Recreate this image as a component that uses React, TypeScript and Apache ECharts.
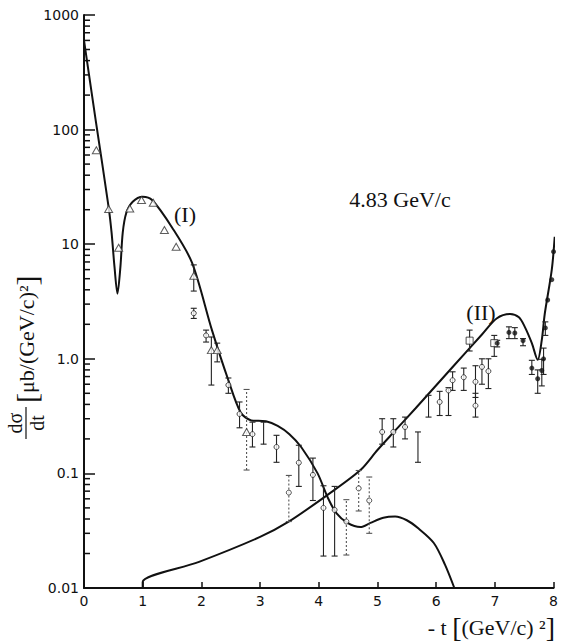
import React, { useEffect, useRef } from 'react';
import * as echarts from 'echarts';

// ---- tick labels ----
const xTickLabels = ['0', '1', '2', '3', '4', '5', '6', '7', '8'];
const yTickLabels = ['0.01', '0.1', '1.0', '10', '100', '1000'];
const yMinorTicks = [
  0.02, 0.03, 0.04, 0.05, 0.06, 0.07, 0.08, 0.09,
  0.2, 0.3, 0.4, 0.5, 0.6, 0.7, 0.8, 0.9,
  2, 3, 4, 5, 6, 7, 8, 9,
  20, 30, 40, 50, 60, 70, 80, 90,
  200, 300, 400, 500, 600, 700, 800, 900,
];

// ---- model curves ----
const curveI: [number, number][] = [
  [0, 600], [0.2, 120], [0.42, 21], [0.47, 12.6], [0.52, 6.3], [0.57, 3.7],
  [0.62, 6.3], [0.66, 12.6], [0.72, 18.7], [0.83, 23.5], [1.0, 26], [1.16, 24.3],
  [1.5, 14], [1.84, 6.9], [2.18, 1.78], [2.46, 0.65], [2.67, 0.34], [2.85, 0.29],
  [3.1, 0.285], [3.3, 0.26], [3.5, 0.22], [3.7, 0.17], [3.98, 0.1], [4.15, 0.062],
  [4.3, 0.045], [4.49, 0.037], [4.71, 0.034], [4.88, 0.037], [5.1, 0.041],
  [5.3, 0.042], [5.5, 0.039], [5.7, 0.033], [5.96, 0.0247], [6.15, 0.016], [6.31, 0.01],
];
const curveII: [number, number][] = [
  [1.0, 0.01], [1.0, 0.0113], [1.96, 0.0169], [3.0, 0.0279], [3.48, 0.0377],
  [4.15, 0.065], [4.71, 0.107], [5.0, 0.16], [5.28, 0.23], [5.65, 0.37], [6.3, 0.87],
  [6.78, 1.63], [7.03, 2.25], [7.26, 2.46], [7.41, 2.3], [7.51, 1.9],
  [7.63, 1.37], [7.73, 0.98], [7.8, 1.46], [7.85, 2.46], [7.97, 6], [8.02, 11.6],
];

// ---- data points ----
const triangles: [number, number][] = [
  [0.21, 66], [0.42, 20.3], [0.59, 9.3], [0.78, 20.5], [0.98, 24.3], [1.18, 23],
  [1.37, 13.3], [1.57, 9.5], [1.87, 5.3], [2.17, 1.19], [2.27, 1.19], [2.77, 0.23],
];
const openCircles: [number, number][] = [
  [1.87, 2.5], [2.08, 1.6], [2.46, 0.59], [2.65, 0.33], [2.87, 0.22], [3.28, 0.17],
  [3.49, 0.068], [3.66, 0.124], [3.9, 0.097], [4.08, 0.05], [4.27, 0.048], [4.47, 0.038],
  [4.68, 0.074], [4.86, 0.058], [5.08, 0.23], [5.27, 0.23], [5.47, 0.254], [6.06, 0.42],
  [6.21, 0.53], [6.28, 0.65], [6.47, 0.69], [6.67, 0.63], [6.67, 0.39], [6.78, 0.85],
  [6.89, 0.78],
];
const openSquares: [number, number][] = [[6.57, 1.44], [6.99, 1.37]];
const filledCircles: [number, number][] = [
  [7.04, 1.37], [7.24, 1.7], [7.34, 1.68], [7.48, 1.44], [7.63, 0.83], [7.73, 0.67],
  [7.8, 0.79], [7.83, 1.0], [7.86, 1.86], [7.9, 3.26], [7.97, 4.9], [8.0, 8.6],
];
// [x, low, high]
const errorBars: [number, number, number][] = [
  [1.87, 3.9, 6.6], [1.87, 2.25, 2.76], [2.08, 1.4, 1.78], [2.17, 0.59, 1.55],
  [2.27, 0.94, 1.37], [2.46, 0.5, 0.68], [2.65, 0.25, 0.42], [2.87, 0.17, 0.28],
  [3.06, 0.18, 0.28], [3.28, 0.125, 0.215], [3.66, 0.077, 0.176], [3.9, 0.058, 0.136],
  [4.08, 0.019, 0.078], [4.27, 0.019, 0.077], [5.08, 0.18, 0.3], [5.27, 0.17, 0.3],
  [5.47, 0.2, 0.31], [5.69, 0.125, 0.23], [5.87, 0.31, 0.48], [6.06, 0.32, 0.52],
  [6.21, 0.32, 0.56], [6.28, 0.53, 0.77], [6.47, 0.53, 0.83], [6.57, 1.17, 1.78],
  [6.67, 0.46, 0.87], [6.67, 0.31, 0.5], [6.78, 0.6, 1.0], [6.89, 0.55, 1.0],
  [6.99, 1.05, 1.6], [7.04, 1.27, 1.45], [7.24, 1.5, 1.9], [7.34, 1.5, 1.87],
  [7.48, 1.3, 1.5], [7.63, 0.73, 0.97], [7.73, 0.5, 0.8], [7.8, 0.58, 0.99],
  [7.83, 0.73, 1.24], [7.86, 1.6, 2.1],
];
const dashedErrorBars: [number, number, number][] = [
  [2.77, 0.107, 0.54], [3.49, 0.038, 0.096], [4.47, 0.0194, 0.059],
  [4.68, 0.047, 0.106], [4.86, 0.03, 0.093],
];

const INK = '#111';
const SERIF = 'Liberation Serif';

function errorBarRenderer(dashed: boolean) {
  return (_params: any, api: any) => {
    const x = api.value(0);
    const lo = api.coord([x, api.value(1)]);
    const hi = api.coord([x, api.value(2)]);
    const w = 3;
    const style = {
      stroke: dashed ? '#555' : '#222',
      lineWidth: 1.1,
      lineDash: dashed ? [2, 2] : null,
    };
    const capStyle = { stroke: dashed ? '#555' : '#222', lineWidth: 1.1 };
    return {
      type: 'group',
      children: [
        { type: 'line', shape: { x1: lo[0], y1: lo[1], x2: hi[0], y2: hi[1] }, style },
        { type: 'line', shape: { x1: lo[0] - w, y1: lo[1], x2: lo[0] + w, y2: lo[1] }, style: capStyle },
        { type: 'line', shape: { x1: hi[0] - w, y1: hi[1], x2: hi[0] + w, y2: hi[1] }, style: capStyle },
      ],
    };
  };
}

export default function App() {
  const ref = useRef<HTMLDivElement>(null);

  useEffect(() => {
    if (!ref.current) return;
    const chart = echarts.init(ref.current, undefined, { renderer: 'svg' });
    const axisLineStyle = { color: INK, width: 2 };
    const option: any = {
      animation: false,
      backgroundColor: '#fff',
      grid: { left: 84, right: 2, top: 15, bottom: 56 },
      xAxis: {
        type: 'value',
        min: 0,
        max: 8,
        interval: 1,
        axisLine: { show: true, onZero: false, lineStyle: axisLineStyle },
        axisTick: { show: true, inside: true, length: 6, lineStyle: { color: INK, width: 1.5 } },
        axisLabel: {
          formatter: (v: number) => xTickLabels[Math.round(v)],
          color: INK,
          fontFamily: 'DejaVu Sans',
          fontSize: 14,
          margin: 6,
        },
        splitLine: { show: false },
      },
      yAxis: {
        type: 'log',
        logBase: 10,
        min: 0.01,
        max: 1000,
        axisLine: { show: true, onZero: false, lineStyle: axisLineStyle },
        axisTick: { show: true, inside: true, length: 11, lineStyle: { color: INK, width: 1.5 } },
        axisLabel: {
          formatter: (v: number) => yTickLabels[Math.round(Math.log10(v)) + 2],
          color: INK,
          fontFamily: 'DejaVu Sans',
          fontSize: 14,
          margin: 5,
        },
        splitLine: { show: false },
      },
      series: [
        {
          type: 'custom',
          data: yMinorTicks.map((v) => [0, v]),
          encode: { x: 0, y: 1 },
          silent: true,
          renderItem: (_p: any, api: any) => {
            const p = api.coord([0, api.value(1)]);
            return {
              type: 'line',
              shape: { x1: p[0], y1: p[1], x2: p[0] + 6, y2: p[1] },
              style: { stroke: INK, lineWidth: 1.5 },
            };
          },
        },
        {
          type: 'line',
          data: curveI,
          smooth: 0.3,
          symbol: 'none',
          lineStyle: { color: INK, width: 2 },
          z: 3,
        },
        {
          type: 'line',
          data: curveII,
          smooth: 0.3,
          symbol: 'none',
          lineStyle: { color: INK, width: 2 },
          z: 3,
        },
        {
          type: 'custom',
          data: errorBars,
          encode: { x: 0, y: [1, 2] },
          renderItem: errorBarRenderer(false),
          z: 4,
        },
        {
          type: 'custom',
          data: dashedErrorBars,
          encode: { x: 0, y: [1, 2] },
          renderItem: errorBarRenderer(true),
          z: 4,
        },
        {
          type: 'scatter',
          data: triangles,
          symbol: 'triangle',
          symbolSize: [8, 7],
          itemStyle: { color: '#fff', borderColor: '#333', borderWidth: 1 },
          z: 5,
        },
        {
          type: 'scatter',
          data: openCircles,
          symbol: 'circle',
          symbolSize: 5,
          itemStyle: { color: '#fff', borderColor: '#222', borderWidth: 1 },
          z: 5,
        },
        {
          type: 'scatter',
          data: openSquares,
          symbol: 'rect',
          symbolSize: 7,
          itemStyle: { color: '#fff', borderColor: '#222', borderWidth: 1 },
          z: 5,
        },
        {
          type: 'scatter',
          data: filledCircles,
          symbol: 'circle',
          symbolSize: 5,
          itemStyle: { color: INK },
          z: 5,
        },
      ],
      graphic: [
        {
          type: 'text',
          x: 400,
          y: 199,
          style: { text: '4.83 GeV/c', font: `22px "${SERIF}"`, fill: INK, align: 'center', verticalAlign: 'middle' },
        },
        {
          type: 'text',
          x: 185,
          y: 214,
          style: { text: '(I)', font: `22px "${SERIF}"`, fill: INK, align: 'center', verticalAlign: 'middle' },
        },
        {
          type: 'text',
          x: 481,
          y: 312,
          style: { text: '(II)', font: `22px "${SERIF}"`, fill: INK, align: 'center', verticalAlign: 'middle' },
        },
        {
          type: 'text',
          x: 555,
          y: 627,
          style: {
            text: '{a|- t }{b|[}{a|(GeV/c) ²}{b|]}',
            align: 'right',
            verticalAlign: 'middle',
            fill: INK,
            rich: {
              a: { fontFamily: SERIF, fontSize: 22, lineHeight: 26, fill: INK },
              b: { fontFamily: SERIF, fontSize: 28, lineHeight: 28, fill: INK },
            },
          },
        },
        {
          type: 'group',
          x: 26,
          y: 346,
          rotation: Math.PI / 2,
          children: [
            {
              type: 'text',
              x: -77,
              y: -1,
              style: { text: 'dσ', font: `20px "${SERIF}"`, fill: INK, align: 'center', verticalAlign: 'bottom' },
            },
            {
              type: 'line',
              shape: { x1: -93, y1: 0, x2: -61, y2: 0 },
              style: { stroke: INK, lineWidth: 1.2 },
            },
            {
              type: 'text',
              x: -77,
              y: 1,
              style: { text: 'dt', font: `20px "${SERIF}"`, fill: INK, align: 'center', verticalAlign: 'top' },
            },
            {
              type: 'text',
              x: -57,
              y: 0,
              style: {
                text: '{b|[}{a|μb/(GeV/c)²}{b|]}',
                align: 'left',
                verticalAlign: 'middle',
                fill: INK,
                rich: {
                  a: { fontFamily: SERIF, fontSize: 22, fill: INK },
                  b: { fontFamily: SERIF, fontSize: 30, fill: INK },
                },
              },
            },
          ],
        },
      ],
    };
    chart.setOption(option);
    return () => chart.dispose();
  }, []);

  return (
    <div
      ref={ref}
      style={{ position: 'fixed', left: 0, top: 0, width: 561, height: 644, background: '#fff' }}
    />
  );
}
